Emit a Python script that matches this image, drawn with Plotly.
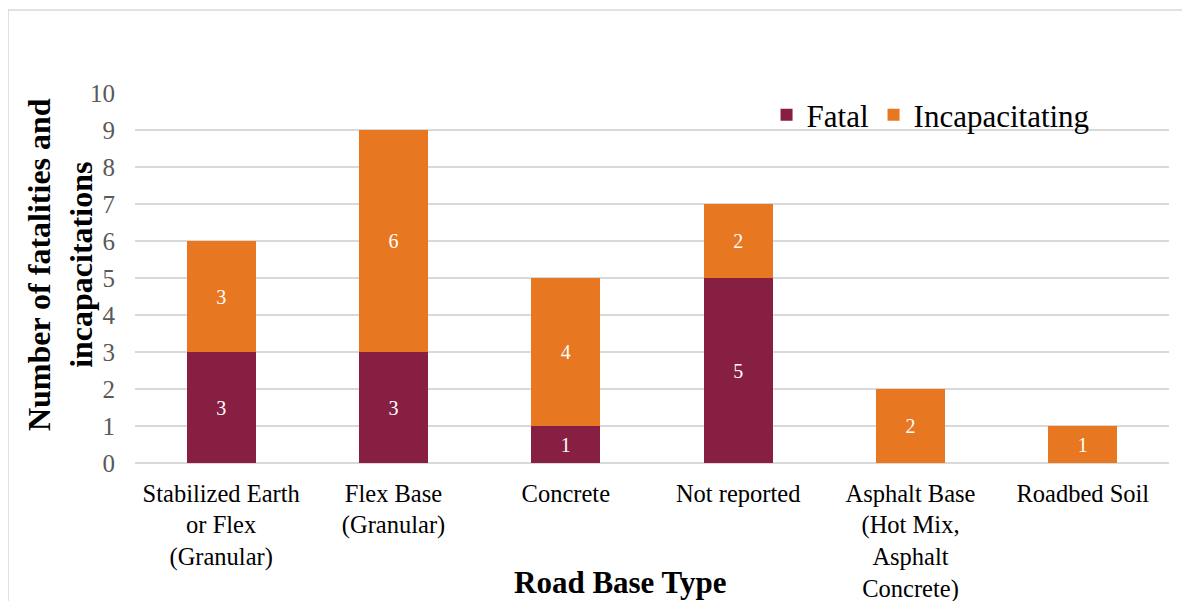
import plotly.graph_objects as go

# =========================
# DATA
# =========================
road_base = [
    "Stabilized Earth<br>or Flex<br>(Granular)",
    "Flex Base<br>(Granular)",
    "Concrete",
    "Not reported",
    "Asphalt Base<br>(Hot Mix,<br>Asphalt<br>Concrete)",
    "Roadbed Soil",
]
fatal = [3, 3, 1, 5, 0, 0]
incapacitating = [3, 6, 4, 2, 2, 1]

FATAL_COLOR = "#861F41"
INCAP_COLOR = "#E87722"
FONT = "Liberation Serif"


def _labels(vals):
    return [str(v) if v else "" for v in vals]


fig = go.Figure()
fig.add_trace(go.Bar(
    x=road_base, y=fatal, name="Fatal",
    marker=dict(color=FATAL_COLOR, line=dict(width=0)),
    text=_labels(fatal), textposition="inside", insidetextanchor="middle",
    textfont=dict(color="white", size=20, family=FONT),
    width=0.4,
))
fig.add_trace(go.Bar(
    x=road_base, y=incapacitating, name="Incapacitating",
    marker=dict(color=INCAP_COLOR, line=dict(width=0)),
    text=_labels(incapacitating), textposition="inside", insidetextanchor="middle",
    textfont=dict(color="white", size=20, family=FONT),
    width=0.4,
))

fig.update_layout(
    barmode="stack",
    width=1190, height=601,
    margin=dict(l=127, r=29, t=85, b=146),
    plot_bgcolor="white", paper_bgcolor="white",
    font=dict(family=FONT, color="black"),
    showlegend=True,
    legend=dict(
        orientation="h", x=0.928, xanchor="right", y=0.94, yanchor="middle",
        font=dict(size=31, color="black", family=FONT),
        bgcolor="rgba(0,0,0,0)", traceorder="normal",
    ),
    xaxis=dict(
        tickfont=dict(size=24.5, color="black", family=FONT),
        showgrid=False, showline=False, ticks="", ticklabelstandoff=13,
        automargin=False,
    ),
    yaxis=dict(
        range=[0, 10], dtick=1,
        tickfont=dict(size=25, color="#595959", family=FONT),
        gridcolor="#D9D9D9", gridwidth=1.5,
        zeroline=True, zerolinecolor="#D9D9D9", zerolinewidth=1.5,
        showline=False, ticks="", ticklabelstandoff=19, automargin=False,
    ),
    shapes=[dict(
        type="rect", xref="paper", yref="paper",
        x0=-0.1228, x1=1.1, y0=-0.6, y1=1.2243,
        line=dict(color="#D9D9D9", width=1.5), layer="below",
    )],
    annotations=[
        dict(
            text="<b>Number of fatalities and<br>incapacitations</b>",
            xref="paper", yref="paper", x=-0.0725, y=0.535,
            xanchor="center", yanchor="middle", textangle=-90, showarrow=False,
            font=dict(size=32, color="black", family=FONT),
        ),
        dict(
            text="<b>Road Base Type</b>",
            xref="paper", yref="paper", x=0.469, y=-0.324,
            xanchor="center", yanchor="middle", showarrow=False,
            font=dict(size=31, color="black", family=FONT),
        ),
    ],
)

fig.write_html("out.html")
